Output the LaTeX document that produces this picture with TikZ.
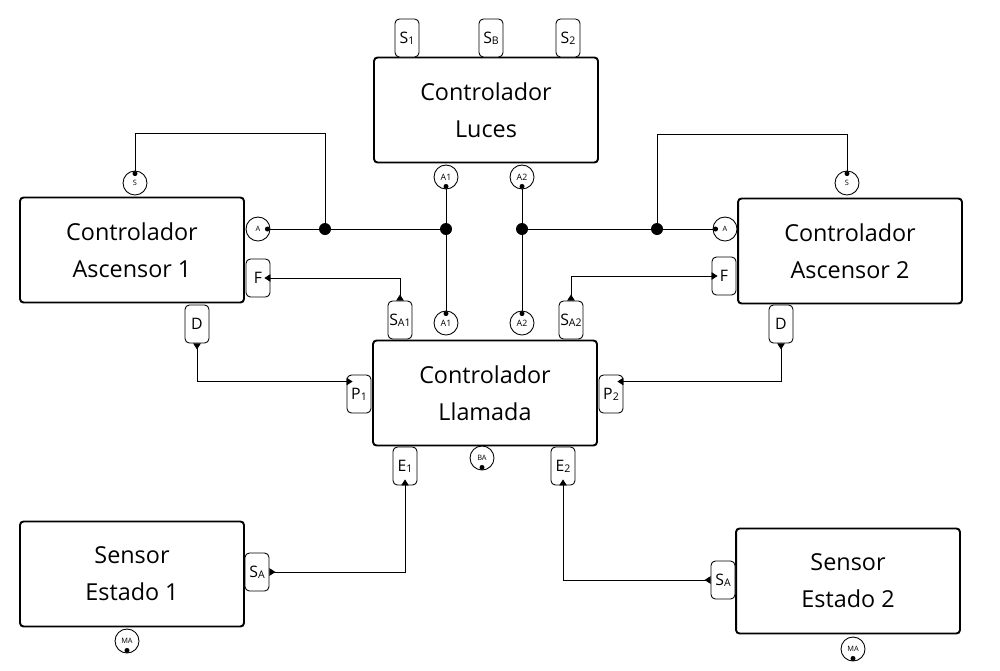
\documentclass[tikz,border=0pt]{standalone}
\usepackage{fontspec}
\setmainfont{Open Sans}
\usetikzlibrary{calc}
\usetikzlibrary{positioning}
\usetikzlibrary{arrows.meta}

\newcommand{\portlbl}[2]{#1\raisebox{-0.1ex}{\fontsize{6}{6}\selectfont #2}}

\begin{document}
\begin{tikzpicture}[
		x=0.02cm, y=-0.02cm,
		blk/.style = {rectangle, draw, rounded corners=2pt, line width=1.1pt, minimum width=4.48cm, minimum height=2.1cm, align=center, font=\fontsize{13.3}{21}\selectfont},
		tab/.style = {rectangle, draw, rounded corners=2.5pt, line width=0.5pt, fill=white, minimum width=0.48cm, minimum height=0.76cm, inner sep=0pt, font=\fontsize{9}{10}\selectfont},
		prt/.style = {circle, draw, line width=0.5pt, fill=white, minimum size=0.48cm, inner sep=0pt, font=\fontsize{5}{6}\selectfont},
		sml/.style = {font=\fontsize{4.2}{5}\selectfont},
		jn/.style  = {circle, fill, minimum size=0.24cm, inner sep=0pt},
		pt/.style  = {circle, fill, minimum size=0.1cm, inner sep=0pt},
		ln/.style  = {line width=0.45pt},
		io/.style  = {line width=0.45pt, {Triangle[reversed, length=0.12cm, width=0.15cm]}-{Triangle[length=0.12cm, width=0.15cm]}, shorten >=-0.12cm},
		]
		\useasboundingbox (0, 0) rectangle (1000, 670);
		
		% === === Nodes === ===
		\node[blk]	(luces)	at	(486, 110)	{Controlador\\Luces};
		\node[blk]	(asc1)	at	(132, 250)	{Controlador\\Ascensor 1};
		\node[blk]	(asc2)	at	(850, 251)	{Controlador\\Ascensor 2};
		\node[blk]	(llam)	at	(485, 393)	{Controlador\\Llamada};
		\node[blk]	(sen1)	at	(132, 574)	{Sensor\\Estado 1};
		\node[blk]	(sen2)	at	(848, 581)	{Sensor\\Estado 2};
		
		% tabs
		\node[tab]	(s1)	at	(407, 38)	{\portlbl{S}{1}};
		\node[tab]	(sb)	at	(491, 38)	{\portlbl{S}{B}};
		\node[tab]	(s2)	at	(568, 38)	{\portlbl{S}{2}};
		\node[tab]	(fL)	at	(258, 278)	{F};
		\node[tab]	(fR)	at	(724, 276)	{F};
		\node[tab]	(d1)	at	(197, 324)	{D};
		\node[tab]	(d2)	at	(781, 324)	{D};
		\node[tab]	(sa1)	at	(400, 320)	{\portlbl{S}{A1}};
		\node[tab]	(sa2)	at	(571, 320)	{\portlbl{S}{A2}};
		\node[tab]	(p1)	at	(359, 394)	{\portlbl{P}{1}};
		\node[tab]	(p2)	at	(611, 394)	{\portlbl{P}{2}};
		\node[tab]	(e1)	at	(405, 466)	{\portlbl{E}{1}};
		\node[tab]	(e2)	at	(563, 466)	{\portlbl{E}{2}};
		\node[tab]	(saL)	at	(257, 572)	{\portlbl{S}{A}};
		\node[tab]	(saR)	at	(723, 580)	{\portlbl{S}{A}};
		
		% ports
		\node[prt]	(a1t)	at	(446, 177)	{A1};
		\node[prt]	(a2t)	at	(522, 177)	{A2};
		\node[prt]	(a1b)	at	(446, 323)	{A1};
		\node[prt]	(a2b)	at	(522, 323)	{A2};
		\node[prt, sml]	(aL)	at	(258, 229)	{A};
		\node[prt, sml]	(aR)	at	(725, 229)	{A};
		\node[prt, sml]	(sL)	at	(135, 183)	{S};
		\node[prt, sml]	(sR)	at	(847, 183)	{S};
		\node[prt, sml]	(ba)	at	(482, 458)	{BA};
		\node[prt, sml]	(maL)	at	(127, 641)	{MA};
		\node[prt, sml]	(maR)	at	(853, 649)	{MA};
		
		\node[pt]	(a1tp)	at	($(a1t.south)+(0,-3)$)	{};
		\node[pt]	(a2tp)	at	($(a2t.south)+(0,-3)$)	{};
		\node[pt]	(a1bp)	at	($(a1b.north)+(0,3)$)	{};
		\node[pt]	(a2bp)	at	($(a2b.north)+(0,3)$)	{};
		\node[pt]	(aLp)	at	($(aL.east)+(-3,0)$)	{};
		\node[pt]	(aRp)	at	($(aR.west)+(3,0)$)	{};
		\node[pt]	(sLp)	at	($(sL.north)+(0,3)$)	{};
		\node[pt]	(sRp)	at	($(sR.north)+(0,3)$)	{};
		\node[pt]	(bap)	at	($(ba.south)+(0,-3)$)	{};
		\node[pt]	(maLp)	at	($(maL.south)+(0,-3)$)	{};
		\node[pt]	(maRp)	at	($(maR.south)+(0,-3)$)	{};
		
		% junctions
		\node[jn]	(j1)	at	(325, 229)	{};
		\node[jn]	(j2)	at	(446, 229)	{};
		\node[jn]	(j3)	at	(522, 229)	{};
		\node[jn]	(j4)	at	(657, 229)	{};
		\coordinate	(kL)	at	(325, 133);
		\coordinate	(kR)	at	(657, 134);
		
		
		% === === Lines === ===
		\draw[ln]	(aLp)	--	(j1)	--	(j2);
		\draw[ln]	(j3)	--	(j4)	--	(aRp);
		\draw[ln]	(a1tp)	--	(j2)	--	(a1bp);
		\draw[ln]	(a2tp)	--	(j3)	--	(a2bp);
		\draw[ln]	(j1)	--	(kL)	-|	(sLp);
		\draw[ln]	(j4)	--	(kR)	-|	(sRp);
		
		\draw[io]	(sa1.north)	|-	(fL.east);
		\draw[io]	(sa2.north)	|-	(fR.west);
		\draw[io]	(d1.south)	|-	([yshift=0.25cm]p1.west);
		\draw[io]	(d2.south)	|-	([yshift=0.25cm]p2.east);
		\draw[io]	(saL.east)	-|	(e1.south);
		\draw[io]	(saR.west)	-|	(e2.south);
		
	\end{tikzpicture}
\end{document}
